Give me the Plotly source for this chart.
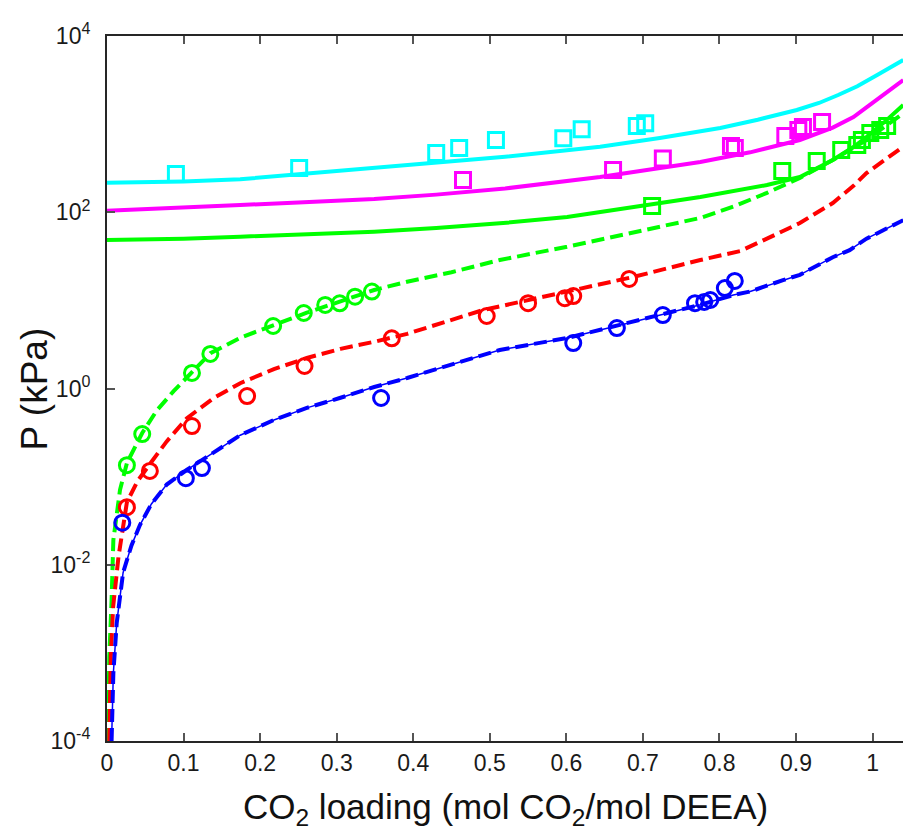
import plotly.graph_objects as go

# ---- measured data (open symbols) ----
x_cyan_sq = [0.090, 0.251, 0.430, 0.460, 0.508, 0.596, 0.620, 0.692, 0.703]
p_cyan_sq = [272, 318, 470, 535, 660, 690, 873, 953, 1021]

x_magenta_sq = [0.465, 0.661, 0.726, 0.815, 0.820, 0.886, 0.903, 0.909, 0.934]
p_magenta_sq = [232, 301, 407, 565, 536, 733, 857, 927, 1057]

x_green_sq = [0.712, 0.882, 0.927, 0.959, 0.980, 0.986, 0.997, 1.010, 1.019]
p_green_sq = [118, 294, 382, 508, 579, 661, 793, 857, 953]

x_green_ci = [0.026, 0.046, 0.111, 0.135, 0.217, 0.257, 0.285, 0.304, 0.324, 0.346]
p_green_ci = [0.135, 0.304, 1.50, 2.47, 5.12, 7.19, 8.87, 9.27, 11.0, 12.6]

x_red_ci = [0.026, 0.056, 0.111, 0.183, 0.258, 0.372, 0.496, 0.550, 0.598, 0.609, 0.682]
p_red_ci = [0.045, 0.116, 0.375, 0.82, 1.80, 3.71, 6.65, 9.3, 10.6, 11.2, 17.5]

x_blue_ci = [0.020, 0.103, 0.124, 0.358, 0.609, 0.666, 0.726, 0.768, 0.780, 0.788, 0.807, 0.820]
p_blue_ci = [0.030, 0.096, 0.125, 0.78, 3.28, 4.85, 6.82, 9.3, 9.6, 10.1, 13.8, 16.6]

# ---- model curves (log10 of pressure in kPa) ----
x_cyan_fit = [0, 0.1, 0.174, 0.25, 0.349, 0.43, 0.52, 0.644, 0.722, 0.801, 0.85, 0.901,
              0.93, 0.955, 0.98, 1.006, 1.04]
lp_cyan_fit = [2.335, 2.35, 2.374, 2.43, 2.51, 2.57, 2.63, 2.744, 2.843, 2.956, 3.05, 3.16,
               3.24, 3.33, 3.43, 3.557, 3.728]

x_magenta_fit = [0, 0.1, 0.174, 0.25, 0.349, 0.43, 0.52, 0.644, 0.72, 0.775, 0.84, 0.905,
                 0.948, 0.975, 0.992, 1.015, 1.04]
lp_magenta_fit = [2.018, 2.05, 2.082, 2.11, 2.15, 2.20, 2.27, 2.40, 2.50, 2.57, 2.68, 2.82,
                  2.96, 3.08, 3.19, 3.34, 3.50]

x_green_fit = [0, 0.1, 0.174, 0.25, 0.349, 0.43, 0.513, 0.601, 0.687, 0.775, 0.862, 0.905,
               0.948, 0.975, 0.992, 1.015, 1.04]
lp_green_fit = [1.685, 1.70, 1.723, 1.75, 1.779, 1.82, 1.874, 1.946, 2.06, 2.173, 2.309, 2.40,
                2.593, 2.74, 2.854, 3.02, 3.217]

x_green_dash = [0.0013, 0.003, 0.006, 0.0083, 0.017, 0.026, 0.046, 0.065, 0.087, 0.111, 0.135,
                0.175, 0.218, 0.261, 0.349, 0.392, 0.45, 0.513, 0.601, 0.687, 0.775, 0.818,
                0.862, 0.905, 0.948, 0.992, 1.015, 1.04]
lp_green_dash = [-4.0, -3.04, -2.4, -1.72, -1.15, -0.845, -0.505, -0.25, -0.03, 0.19, 0.40,
                 0.58, 0.72, 0.86, 1.118, 1.212, 1.32, 1.458, 1.609, 1.765, 1.935, 2.063,
                 2.22, 2.39, 2.593, 2.82, 2.96, 3.123]

x_red_dash = [0.003, 0.005, 0.008, 0.015, 0.026, 0.04, 0.057, 0.078, 0.104, 0.139, 0.174,
              0.218, 0.261, 0.305, 0.349, 0.392, 0.491, 0.601, 0.687, 0.775, 0.827, 0.862,
              0.905, 0.948, 0.975, 0.992, 1.04]
lp_red_dash = [-4.0, -3.04, -2.48, -1.91, -1.29, -1.05, -0.845, -0.60, -0.34, -0.11, 0.06,
               0.22, 0.346, 0.45, 0.53, 0.62, 0.89, 1.095, 1.265, 1.458, 1.56, 1.70,
               1.878, 2.105, 2.30, 2.445, 2.744]

x_blue_dash = [0.006, 0.0083, 0.0127, 0.021, 0.032, 0.043, 0.058, 0.078, 0.104, 0.131, 0.174,
               0.218, 0.261, 0.304, 0.349, 0.392, 0.426, 0.513, 0.601, 0.687, 0.775, 0.818,
               0.84, 0.883, 0.905, 0.948, 0.97, 0.992, 1.04]
lp_blue_dash = [-4.0, -3.23, -2.66, -2.09, -1.78, -1.55, -1.31, -1.09, -0.925, -0.77, -0.53,
                -0.357, -0.22, -0.108, 0.017, 0.119, 0.21, 0.437, 0.573, 0.754, 0.95, 1.06,
                1.10, 1.23, 1.29, 1.49, 1.57, 1.70, 1.91]

x_ticks = [0, 0.1, 0.2, 0.3, 0.4, 0.5, 0.6, 0.7, 0.8, 0.9, 1.0]
x_tick_text = ["0", "0.1", "0.2", "0.3", "0.4", "0.5", "0.6", "0.7", "0.8", "0.9", "1"]
y_ticks = [1e-4, 1e-2, 1, 1e2, 1e4]
y_tick_text = ["10<sup>-4</sup>", "10<sup>-2</sup>", "10<sup>0</sup>", "10<sup>2</sup>", "10<sup>4</sup>"]

CYAN, MAGENTA, GREEN, RED, BLUE = "#00FFFF", "#FF00FF", "#00FF00", "#FF0000", "#0000FF"
FONT = "Arial, Liberation Sans, sans-serif"
DASH = "13px,6px"


def pw(lp):
    return [10 ** v for v in lp]


fig = go.Figure()

# model curves
fig.add_trace(go.Scatter(x=x_cyan_fit, y=pw(lp_cyan_fit), mode="lines",
                         line=dict(color=CYAN, width=4)))
fig.add_trace(go.Scatter(x=x_magenta_fit, y=pw(lp_magenta_fit), mode="lines",
                         line=dict(color=MAGENTA, width=4)))
fig.add_trace(go.Scatter(x=x_green_fit, y=pw(lp_green_fit), mode="lines",
                         line=dict(color=GREEN, width=4)))
fig.add_trace(go.Scatter(x=x_green_dash, y=pw(lp_green_dash), mode="lines",
                         line=dict(color=GREEN, width=4, dash=DASH)))
fig.add_trace(go.Scatter(x=x_red_dash, y=pw(lp_red_dash), mode="lines",
                         line=dict(color=RED, width=4, dash=DASH)))
fig.add_trace(go.Scatter(x=x_blue_dash, y=pw(lp_blue_dash), mode="lines",
                         line=dict(color=BLUE, width=1.5)))
fig.add_trace(go.Scatter(x=x_blue_dash, y=pw(lp_blue_dash), mode="lines",
                         line=dict(color=BLUE, width=4, dash=DASH)))


# measured points
def sym(x, y, color, symbol):
    fig.add_trace(go.Scatter(x=x, y=y, mode="markers",
                             marker=dict(symbol=symbol, size=15, color=color,
                                         line=dict(color=color, width=3))))


sym(x_cyan_sq, p_cyan_sq, CYAN, "square-open")
sym(x_magenta_sq, p_magenta_sq, MAGENTA, "square-open")
sym(x_green_sq, p_green_sq, GREEN, "square-open")
sym(x_green_ci, p_green_ci, GREEN, "circle-open")
sym(x_red_ci, p_red_ci, RED, "circle-open")
sym(x_blue_ci, p_blue_ci, BLUE, "circle-open")

fig.update_layout(
    width=903, height=839,
    margin=dict(l=107, r=0, t=36, b=98),
    paper_bgcolor="white", plot_bgcolor="white",
    showlegend=False,
    font=dict(family=FONT, color="#1a1a1a"),
)
fig.update_xaxes(
    range=[0, 1.0397], tickvals=x_ticks, ticktext=x_tick_text,
    ticks="inside", ticklen=8, tickwidth=1.5, tickcolor="#555555",
    showline=True, linecolor="#262626", linewidth=2, mirror="ticks",
    showgrid=False, zeroline=False, tickfont=dict(size=23, family=FONT),
    ticklabelstandoff=0,
)
fig.update_yaxes(
    type="log", range=[-4, 4], tickvals=y_ticks, ticktext=y_tick_text,
    ticks="inside", ticklen=8, tickwidth=1.5, tickcolor="#555555",
    showline=True, linecolor="#262626", linewidth=2, mirror=False,
    showgrid=False, zeroline=False, tickfont=dict(size=23, family=FONT),
    ticklabelstandoff=10,
)
fig.add_annotation(
    text="CO<sub>2</sub> loading (mol CO<sub>2</sub>/mol DEEA)",
    xref="paper", yref="paper", x=0.5, y=-0.062, xanchor="center", yanchor="top",
    showarrow=False, font=dict(size=35, family=FONT, color="#111111"),
)
fig.add_annotation(
    text="P (kPa)", textangle=-90,
    xref="paper", yref="paper", x=-0.0905, y=0.5, xanchor="center", yanchor="middle",
    showarrow=False, font=dict(size=37, family=FONT, color="#111111"),
)

fig.write_html("out.html")
